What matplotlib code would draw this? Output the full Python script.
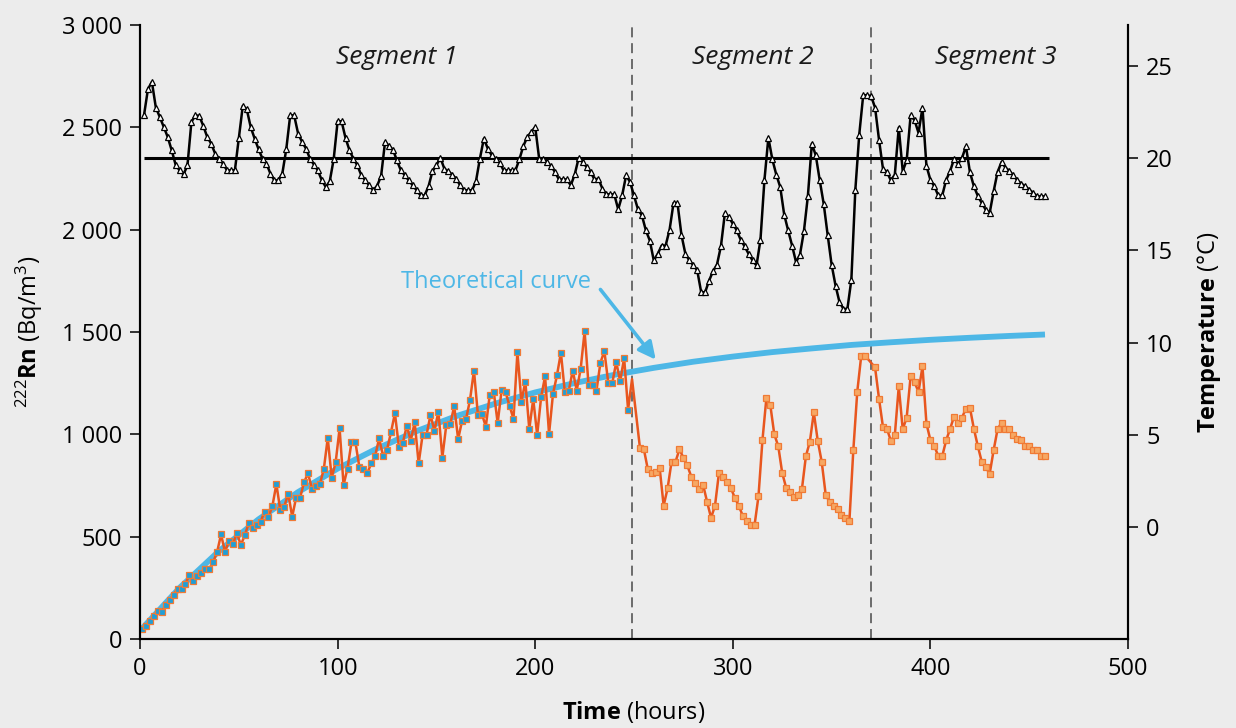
import numpy as np
import matplotlib
matplotlib.use("Agg")
import matplotlib.pyplot as plt

plt.rcParams['font.family'] = ['Open Sans', 'DejaVu Sans']
plt.rcParams['mathtext.fontset'] = 'custom'
plt.rcParams['mathtext.rm'] = 'Open Sans'
plt.rcParams['mathtext.bf'] = 'Open Sans:bold'
plt.rcParams['mathtext.it'] = 'Open Sans:italic'

# ---------------- data ----------------
# Radon, segment 1 (hours 1..247, every 2 h)
rn_seg1 = [
    49, 65, 87, 114, 139, 132, 165, 190, 217, 245,
    245, 271, 312, 286, 307, 324, 343, 343, 376, 425,
    511, 426, 479, 462, 520, 459, 507, 565, 544, 557,
    572, 623, 596, 650, 757, 629, 647, 711, 598, 691,
    691, 765, 810, 735, 748, 757, 830, 982, 789, 863,
    1029, 753, 833, 961, 961, 841, 830, 810, 858, 895,
    980, 895, 925, 1010, 1103, 940, 958, 1042, 969, 1059,
    858, 997, 998, 1095, 1018, 1111, 887, 1046, 1051, 1137,
    977, 1067, 1075, 1168, 1312, 1095, 1100, 1038, 1194, 1209,
    1056, 1216, 1206, 1141, 1075, 1402, 1160, 1258, 1026, 1173,
    997, 1183, 1283, 1002, 1198, 1288, 1399, 1206, 1214, 1312,
    1214, 1320, 1503, 1239, 1239, 1214, 1350, 1407, 1250, 1250,
    1353, 1260, 1373, 1121]
rn_t_seg1 = np.arange(1, 248, 2)

# point at the segment change (hour 249)
rn_t_switch = [249]
rn_switch = [1270]

# Radon, segment 2 (hours 253..369)
rn_seg2 = [
    935, 927, 829, 809, 817, 834, 652, 736, 866,
    866, 927, 886, 848, 793, 760, 734, 752, 670, 592,
    652, 812, 793, 768, 739, 690, 652, 603, 579, 556,
    556, 698, 971, 1177, 1142, 1000, 943, 812, 739, 718,
    695, 706, 734, 894, 964, 1107, 968, 866, 706, 669,
    652, 633, 608, 592, 575, 923, 1209, 1384, 1384]
rn_t_seg2 = np.arange(253, 253 + 2 * len(rn_seg2), 2)

# Radon, segment 3 (hours 372..)
rn_seg3 = [
    1327, 1175, 1036, 1028, 968, 997, 1234, 1025, 1082, 1283, 1254,
    1208, 1332, 1053, 972, 943, 894, 894, 971, 1028, 1087,
    1054, 1082, 1126, 1131, 1028, 943, 866, 840, 807, 922,
    1025, 1057, 1028, 1028, 995, 976, 971, 943, 943, 922,
    922, 894, 894]
rn_t_seg3 = np.arange(372, 372 + 2 * len(rn_seg3), 2)

# Temperature (°C), every 2 h from hour 2
temp = [
    # 2 .. 114
    22.31, 23.73, 24.12, 22.73, 22.22, 21.68, 21.14, 20.42, 19.64, 19.33,
    19.11, 19.60, 21.95, 22.31, 22.28, 21.74, 21.14, 20.78, 20.24, 19.96,
    19.69, 19.33, 19.33, 19.33, 21.10, 22.82, 22.64, 21.68, 21.05, 20.47,
    19.96, 19.69, 19.15, 18.79, 18.79, 19.15, 20.47, 22.31, 22.31, 21.32,
    20.87, 20.51, 19.96, 19.64, 19.33, 18.79, 18.43, 18.73, 19.93, 21.99,
    21.99, 21.08, 20.42, 19.96, 19.60, 19.06, 18.79,
    # 116 .. 254
    18.52, 18.25, 18.50, 19.02, 20.87, 20.65, 20.45, 19.87, 19.33, 19.06,
    18.79, 18.52, 18.25, 17.97, 17.97, 18.46, 19.28, 19.60, 20.02, 19.42,
    19.28, 19.10, 18.88, 18.52, 18.25, 18.25, 18.25, 18.73, 19.96, 21.05,
    20.51, 20.14, 19.96, 19.75, 19.33, 19.33, 19.33, 19.33, 19.93, 20.65,
    21.14, 21.41, 21.68, 19.96, 19.96, 19.78, 19.57, 19.24, 18.84, 18.84,
    18.84, 18.52, 19.11, 20.00, 19.78, 19.51, 19.24, 18.84, 18.88, 18.34,
    18.03, 18.03, 18.03, 17.22, 17.97, 19.06, 18.70, 17.97, 17.22, 16.89,
    # 256 .. 458
    16.08, 15.53, 14.45, 14.81, 15.26, 15.26, 16.11, 17.56, 17.56, 15.84,
    14.81, 14.45, 14.20, 13.91, 12.73, 12.73, 13.36, 13.87, 14.23, 15.23,
    17.02, 16.80, 16.44, 16.08, 15.57, 15.21, 14.81, 14.45, 14.18, 15.57,
    18.79, 21.10, 19.93, 19.10, 18.43, 16.94, 16.08, 15.26, 14.36, 14.77,
    16.04, 17.94, 20.78, 20.14, 18.79, 17.52, 15.84, 14.23, 13.09, 12.19,
    11.83, 11.83, 13.40, 18.25, 21.27, 23.40, 23.40, 23.35, 22.73, 20.99,
    19.42, 19.24, 18.79, 19.10, 21.65, 19.29, 19.87, 22.31, 22.04, 21.36,
    22.73, 19.57, 18.82, 18.46, 17.97, 17.97, 18.82, 19.29, 19.96, 19.69,
    20.00, 20.63, 19.24, 18.47, 17.95, 17.56, 17.20, 17.02, 18.19, 19.24,
    19.78, 19.48, 19.30, 19.06, 18.79, 18.61, 18.47, 18.29, 18.12, 17.92,
    17.92, 17.92]
temp_t = np.arange(2, 2 + 2 * len(temp), 2)

# reference temperature line
ref_temp = 20
ref_span = [2, 460]

# Theoretical curve
theo_t = [0, 20, 40, 60, 80, 100, 120, 140, 160, 180, 200, 220, 240,
          260, 280, 300, 320, 340, 360, 380, 400, 420, 440, 458]
theo_rn = [40, 250, 430, 585, 718, 833, 931, 1016, 1089, 1151, 1205, 1251,
           1291, 1325, 1355, 1380, 1402, 1420, 1437, 1450, 1462, 1472, 1481, 1488]

segment_bounds = [249, 370]
segment_labels = ["Segment 1", "Segment 2", "Segment 3"]
segment_label_x = [130, 310, 433]

# ---------------- styling ----------------
BG = "#ececec"
ORANGE = "#e8561f"
ORANGE_FILL = "#f6a864"
ORANGE_EDGE = "#f07a35"
BLUE_FILL = "#1f9fd8"
BLUE = "#4db7e6"
FS = 17

fig = plt.figure(figsize=(12.36, 7.28), dpi=100, facecolor=BG)
ax = fig.add_axes([0.1133, 0.1222, 0.7993, 0.8434], facecolor=BG)
ax2 = ax.twinx()

# theoretical curve
ax.plot(theo_t, theo_rn, color=BLUE, lw=4.2, solid_capstyle='butt', zorder=2)

# radon line
all_t = np.concatenate([rn_t_seg1, rn_t_switch, rn_t_seg2, rn_t_seg3])
all_rn = np.concatenate([rn_seg1, rn_switch, rn_seg2, rn_seg3])
ax.plot(all_t, all_rn, color=ORANGE, lw=1.8, zorder=3)
ax.plot(rn_t_seg1, rn_seg1, ls='none', marker='s', ms=4.5, mfc=BLUE_FILL,
        mec=ORANGE_EDGE, mew=0.9, zorder=4)
rest_t = np.concatenate([rn_t_seg2, rn_t_seg3])
rest_rn = np.concatenate([rn_seg2, rn_seg3])
ax.plot(rest_t, rest_rn, ls='none', marker='s', ms=4.5, mfc=ORANGE_FILL,
        mec=ORANGE_EDGE, mew=0.9, zorder=4)

# segment boundaries
for xb in segment_bounds:
    ax.axvline(xb, color="#555555", lw=1.2, ls=(0, (6, 3.5)), zorder=1)

for lbl, xl in zip(segment_labels, segment_label_x):
    ax.text(xl, 2840, lbl, fontsize=19, style='italic', ha='center',
            va='center', color='#1a1a1a')

# annotation
ax.text(180, 1745, "Theoretical curve", fontsize=FS, color=BLUE,
        ha='center', va='center')
ax.annotate("", xy=(261, 1365), xytext=(233, 1708),
            arrowprops=dict(arrowstyle='-|>', color=BLUE, lw=2.6,
                            mutation_scale=26, shrinkA=0, shrinkB=0))

# temperature
ax2.hlines(ref_temp, ref_span[0], ref_span[1], color='black', lw=2.2, zorder=2)
ax2.plot(temp_t, temp, color='black', lw=1.8, marker='^', ms=5, mfc='white',
         mec='black', mew=0.9, zorder=3)

# axes
ax.set_xlim(0, 500)
ax.set_ylim(0, 3000)
ax2.set_ylim(-6.05, 27.2)
ax.set_xticks([0, 100, 200, 300, 400, 500])
ax.set_yticks([0, 500, 1000, 1500, 2000, 2500, 3000])
ax.set_yticklabels(["0", "500", "1 000", "1 500", "2 000", "2 500", "3 000"])
ax2.set_yticks([0, 5, 10, 15, 20, 25])

for a in (ax, ax2):
    a.spines['top'].set_visible(False)
    for s in ('left', 'right', 'bottom'):
        a.spines[s].set_linewidth(1.5)
ax.tick_params(axis='both', labelsize=FS, width=1.3, length=7, color='#222222',
               pad=6)
ax2.tick_params(axis='y', labelsize=FS, width=1.3, length=7, color='#222222',
                pad=6)

ax.set_xlabel(r"$\mathbf{Time}$ (hours)", fontsize=FS, labelpad=13)
ax.set_ylabel(r"$^{222}\mathbf{Rn}$ (Bq/m$^{3}$)", fontsize=FS, labelpad=12)
ax2.set_ylabel(r"$\mathbf{Temperature}$ (°C)", fontsize=FS, labelpad=16)

fig.savefig("out.png", dpi=100, facecolor=BG)
